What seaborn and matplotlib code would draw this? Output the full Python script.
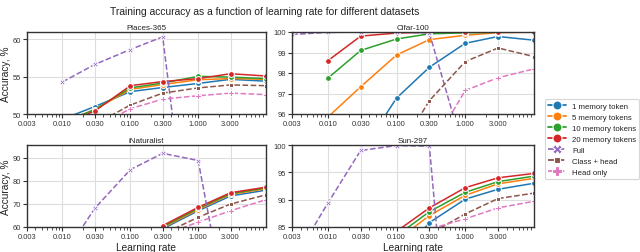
import numpy as np
import pandas as pd
import matplotlib
matplotlib.use("Agg")
import matplotlib.pyplot as plt
import seaborn as sns
from matplotlib.lines import Line2D
from matplotlib.ticker import FixedLocator, FixedFormatter, LogLocator, NullFormatter

nan = np.nan

# ---------------- data ----------------
learning_rates = [0.003, 0.01, 0.03, 0.1, 0.3, 1.0, 3.0, 10.0]
tick_values = [0.003, 0.01, 0.03, 0.1, 0.3, 1.0, 3.0]
tick_labels = ["0.003", "0.010", "0.030", "0.100", "0.300", "1.000", "3.000"]

methods = ["1 memory token", "5 memory tokens", "10 memory tokens", "20 memory tokens",
           "Full", "Class + head", "Head only"]
datasets = ["Places-365", "Cifar-100", "iNaturalist", "Sun-297"]

# Places-365
places_1tok = [nan, 49.3, 51.0, 53.0, 53.55, 54.1, 54.65, 54.4]
places_5tok = [nan, 48.9, 50.6, 53.3, 53.95, 54.6, 54.75, 54.65]
places_10tok = [nan, 48.8, 50.6, 53.5, 54.15, 55.05, 54.95, 54.75]
places_20tok = [nan, 48.6, 50.4, 53.8, 54.35, 54.75, 55.4, 55.1]
places_full = [nan, 54.3, 56.65, 58.65, 60.35, 22.0, 1.0, 1.0]
places_classhead = [nan, 44.0, 48.6, 51.2, 52.8, 53.5, 53.9, 53.8]
places_head = [nan, 43.0, 48.2, 50.7, 52.0, 52.45, 52.8, 52.6]

# Cifar-100
cifar_1tok = [nan, nan, 94.1, 96.78, 98.28, 99.45, 99.78, 99.6]
cifar_5tok = [nan, 95.85, 97.33, 98.88, 99.63, 99.84, 99.97, 99.99]
cifar_10tok = [nan, 97.75, 99.1, 99.66, 99.91, 99.96, 99.99, 99.99]
cifar_20tok = [nan, 98.6, 99.8, 99.95, 99.99, 100.0, 100.0, 100.0]
cifar_full = [99.88, 99.98, 100.0, 100.0, 99.95, 93.9, 1.0, 1.0]
cifar_classhead = [nan, nan, nan, 94.05, 96.65, 98.56, 99.22, 98.8]
cifar_head = [nan, nan, nan, 90.0, 94.2, 97.15, 97.77, 98.2]

# iNaturalist
inat_1tok = [nan, nan, nan, 45.0, 59.2, 67.0, 73.4, 75.9]
inat_5tok = [nan, nan, nan, 45.5, 59.7, 67.5, 74.1, 76.5]
inat_10tok = [nan, nan, nan, 46.0, 60.1, 68.0, 74.4, 76.9]
inat_20tok = [nan, nan, nan, 46.5, 60.6, 68.5, 74.8, 77.2]
inat_full = [nan, 46.9, 68.1, 84.75, 91.8, 88.7, 15.0, 1.0]
inat_classhead = [nan, nan, nan, 50.0, 56.9, 64.2, 69.9, 73.9]
inat_head = [nan, nan, nan, 49.0, 56.5, 62.1, 67.0, 71.8]

# Sun-297
sun_1tok = [nan, nan, nan, 79.0, 85.8, 90.1, 91.9, 93.0]
sun_5tok = [nan, nan, nan, 82.5, 87.1, 90.8, 92.9, 93.9]
sun_10tok = [nan, nan, nan, 83.4, 87.8, 91.35, 93.3, 94.3]
sun_20tok = [nan, nan, nan, 84.2, 88.5, 92.2, 94.0, 94.8]
sun_full = [78.4, 89.4, 99.0, 99.9, 99.8, 26.0, 1.0, 1.0]
sun_classhead = [nan, nan, nan, 80.0, 83.7, 87.4, 90.2, 91.2]
sun_head = [nan, nan, nan, 81.0, 84.6, 86.5, 88.5, 89.7]

series = {
    "Places-365": [places_1tok, places_5tok, places_10tok, places_20tok,
                   places_full, places_classhead, places_head],
    "Cifar-100": [cifar_1tok, cifar_5tok, cifar_10tok, cifar_20tok,
                  cifar_full, cifar_classhead, cifar_head],
    "iNaturalist": [inat_1tok, inat_5tok, inat_10tok, inat_20tok,
                    inat_full, inat_classhead, inat_head],
    "Sun-297": [sun_1tok, sun_5tok, sun_10tok, sun_20tok,
                sun_full, sun_classhead, sun_head],
}
ylims = {"Places-365": (50, 61), "Cifar-100": (96, 100),
         "iNaturalist": (60, 95.4), "Sun-297": (85, 100)}
yticks = {"Places-365": [50, 55, 60], "Cifar-100": [96, 97, 98, 99, 100],
          "iNaturalist": [60, 70, 80, 90], "Sun-297": [85, 90, 95, 100]}

# ---------------- style ----------------
colors = ["#1f77b4", "#ff7f0e", "#2ca02c", "#d62728", "#9467bd", "#8c564b", "#e377c2"]
palette = dict(zip(methods, colors))
marker_map = dict(zip(methods, ["o", "o", "o", "o", "X", (4, 0, 45), "P"]))
dash_map = dict(zip(methods, ["", "", "", "", (3.7, 1.6), (3.7, 1.6), (3.7, 1.6)]))

sns.set_style("ticks")
plt.rcParams["font.family"] = ["Liberation Sans", "DejaVu Sans"]
plt.rcParams["axes.edgecolor"] = "#333333"
plt.rcParams["xtick.color"] = "#333333"
plt.rcParams["ytick.color"] = "#333333"
plt.rcParams["text.color"] = "#222222"
plt.rcParams["axes.labelcolor"] = "#222222"

fig = plt.figure(figsize=(6.4, 2.53), dpi=100)
W, H = 640.0, 253.0
boxes = {
    "Places-365": (27, 33, 266, 115),
    "Cifar-100": (292, 33, 534, 115),
    "iNaturalist": (27, 146, 266, 228),
    "Sun-297": (292, 146, 534, 228),
}

for name in datasets:
    x0, y0, x1, y1 = boxes[name]
    ax = fig.add_axes([x0 / W, 1 - y1 / H, (x1 - x0) / W, (y1 - y0) / H])
    rows = []
    for m, vals in zip(methods, series[name]):
        for lr, v in zip(learning_rates, vals):
            if not np.isnan(v):
                rows.append({"lr": lr, "acc": v, "method": m})
    df = pd.DataFrame(rows)
    sns.lineplot(data=df, x="lr", y="acc", hue="method", style="method",
                 hue_order=methods, style_order=methods, palette=palette,
                 markers=marker_map, dashes=dash_map, markersize=4.2,
                 linewidth=1.1, ax=ax, legend=False)
    ax.set_xscale("log")
    ax.set_xlim(0.003, 10)
    ax.set_ylim(*ylims[name])
    ax.xaxis.set_major_locator(FixedLocator(tick_values))
    ax.xaxis.set_major_formatter(FixedFormatter(tick_labels))
    ax.xaxis.set_minor_locator(LogLocator(base=10, subs=np.arange(2, 10) * 0.1 * 10, numticks=20))
    ax.xaxis.set_minor_formatter(NullFormatter())
    ax.set_yticks(yticks[name])
    ax.grid(True, which="major", color="#dddddd", linewidth=0.8)
    ax.set_axisbelow(True)
    for sp in ax.spines.values():
        sp.set_visible(True)
        sp.set_linewidth(1.0)
    ax.tick_params(axis="both", which="major", labelsize=5.4, length=3, width=0.8, pad=1.5)
    ax.tick_params(axis="x", which="minor", length=1.8, width=0.6)
    ax.set_title(name, fontsize=5.8, pad=2)
    ax.set_xlabel("Learning rate" if name in ("iNaturalist", "Sun-297") else "",
                  fontsize=7.3, labelpad=1)
    ax.set_ylabel("Accuracy, %" if name in ("Places-365", "iNaturalist") else "",
                  fontsize=7.3, labelpad=1)

fig.text(0.414, 1 - 12 / H, "Training accuracy as a function of learning rate for different datasets",
         ha="center", va="center", fontsize=7.4)

handles = []
for m in methods:
    handles.append(Line2D([0], [0], color=palette[m], marker=marker_map[m],
                          linestyle="--" if dash_map[m] else "-",
                          linewidth=1.3, markersize=6.5, markeredgecolor="w",
                          markeredgewidth=0.8))
leg = fig.legend(handles, methods, loc="center left",
                 bbox_to_anchor=(541 / W, 1 - 140 / H), fontsize=5.6,
                 frameon=True, handlelength=2.3, handletextpad=0.8,
                 labelspacing=0.45, borderpad=0.4, fancybox=True)
leg.get_frame().set_edgecolor("#cccccc")
leg.get_frame().set_linewidth(0.8)

fig.savefig("out.png", dpi=100)
